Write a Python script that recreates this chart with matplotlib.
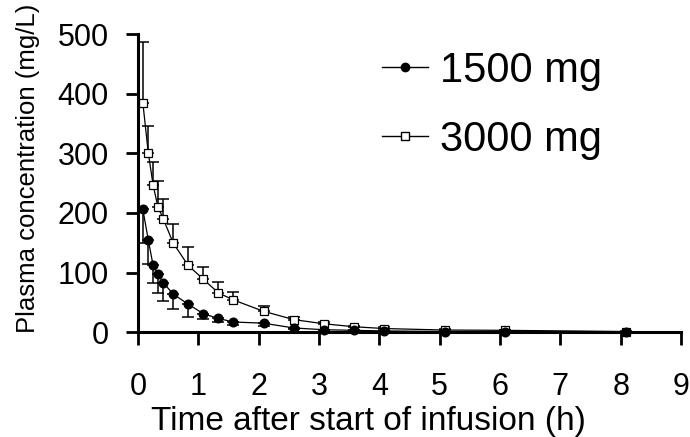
import numpy as np
import matplotlib.pyplot as plt
from matplotlib.lines import Line2D

plt.rcParams['font.family'] = ['Liberation Sans', 'DejaVu Sans']

# sampling times (h)
t = [0.08, 0.17, 0.25, 0.33, 0.42, 0.58, 0.83, 1.08, 1.33, 1.58,
     2.08, 2.58, 3.08, 3.58, 4.08, 5.08, 6.08, 8.08]

# 1500 mg mean and SD (SD drawn downward only)
c1500 = [206, 155, 112, 97, 83, 64, 47, 31, 23, 17,
         15, 7, 4, 3, 2, 1, 1, 0.5]
sd1500 = [56, 41, 30, 31, 31, 26, 21, 9, 6, 5,
          4, 2, 1, 1, 0.5, 0.3, 0.3, 0.2]

# 3000 mg mean and SD (SD drawn upward only)
c3000 = [385, 301, 247, 210, 190, 150, 112, 89, 66, 54,
         35, 21, 14, 9, 6, 3.5, 3, 1]
sd3000 = [101, 44, 39, 43, 34, 31, 31, 20, 18, 14,
          9, 5, 3, 2, 2, 1.5, 1, 0.5]

zero = np.zeros(len(t))

fig = plt.figure(figsize=(6.9, 4.37), dpi=100)
ax = fig.add_axes([0.2, 0.24, 0.787, 0.682])

ax.errorbar(t, c3000, yerr=[zero, sd3000], fmt='none', ecolor='black',
            elinewidth=1.1, capsize=4.3, capthick=1.1, clip_on=False)
ax.plot(t, c3000, '-', color='black', lw=0.9, marker='s', ms=5.5,
        mfc='white', mec='black', mew=0.9, clip_on=False)

ax.errorbar(t, c1500, yerr=[sd1500, zero], fmt='none', ecolor='black',
            elinewidth=1.1, capsize=4.3, capthick=1.1, clip_on=False)
ax.plot(t, c1500, '-', color='black', lw=0.9, marker='o', ms=6.2,
        mfc='black', mec='black', clip_on=False)

ax.set_xlim(0, 9)
ax.set_ylim(0, 500)
ax.set_xticks(range(10))
ax.set_yticks([0, 100, 200, 300, 400, 500])

for s in ['top', 'right']:
    ax.spines[s].set_visible(False)
for s in ['left', 'bottom']:
    ax.spines[s].set_linewidth(2.2)
ax.tick_params(axis='both', direction='out', length=9, width=2,
               labelsize=22)
ax.tick_params(axis='y', pad=12)
ax.tick_params(axis='x', pad=20)

fig.text(0.219, 0.016, 'Time after start of infusion (h)', fontsize=24,
         ha='left', va='baseline')
fig.text(0.04, 0.238, 'Plasma concentration (mg/L)', rotation=90,
         fontsize=18.5, ha='center', va='bottom')

h1 = Line2D([], [], color='black', lw=1, marker='o', ms=6, mfc='black')
h2 = Line2D([], [], color='black', lw=1, marker='s', ms=6, mfc='white')
ax.legend([h1, h2], ['1500 mg', '3000 mg'], loc='upper left',
          bbox_to_anchor=(0.38, 1.07), frameon=False, fontsize=30,
          handlelength=1.1, handletextpad=0.3, labelspacing=0.7)

fig.savefig('out.png', dpi=100)
